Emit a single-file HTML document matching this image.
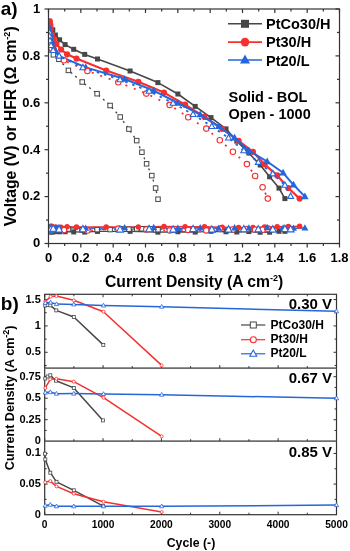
<!DOCTYPE html><html><head><meta charset="utf-8"><style>html,body{margin:0;padding:0;background:#fff;}svg{display:block;will-change:transform;}text{font-family:"Liberation Sans",sans-serif;font-weight:bold;}</style></head><body>
<svg width="350" height="551" viewBox="0 0 350 551">
<rect width="350" height="551" fill="#fff"/>
<g>
<g stroke="#333333" stroke-width="1.2" fill="none">
<rect x="48.5" y="9" width="291.0" height="234.5"/>
<line x1="48.5" y1="243.5" x2="48.5" y2="247.5"/>
<line x1="48.5" y1="9" x2="48.5" y2="13"/>
<line x1="64.67" y1="243.5" x2="64.67" y2="246"/>
<line x1="64.67" y1="9" x2="64.67" y2="11.5"/>
<line x1="80.83" y1="243.5" x2="80.83" y2="247.5"/>
<line x1="80.83" y1="9" x2="80.83" y2="13"/>
<line x1="97" y1="243.5" x2="97" y2="246"/>
<line x1="97" y1="9" x2="97" y2="11.5"/>
<line x1="113.17" y1="243.5" x2="113.17" y2="247.5"/>
<line x1="113.17" y1="9" x2="113.17" y2="13"/>
<line x1="129.33" y1="243.5" x2="129.33" y2="246"/>
<line x1="129.33" y1="9" x2="129.33" y2="11.5"/>
<line x1="145.5" y1="243.5" x2="145.5" y2="247.5"/>
<line x1="145.5" y1="9" x2="145.5" y2="13"/>
<line x1="161.67" y1="243.5" x2="161.67" y2="246"/>
<line x1="161.67" y1="9" x2="161.67" y2="11.5"/>
<line x1="177.83" y1="243.5" x2="177.83" y2="247.5"/>
<line x1="177.83" y1="9" x2="177.83" y2="13"/>
<line x1="194" y1="243.5" x2="194" y2="246"/>
<line x1="194" y1="9" x2="194" y2="11.5"/>
<line x1="210.17" y1="243.5" x2="210.17" y2="247.5"/>
<line x1="210.17" y1="9" x2="210.17" y2="13"/>
<line x1="226.33" y1="243.5" x2="226.33" y2="246"/>
<line x1="226.33" y1="9" x2="226.33" y2="11.5"/>
<line x1="242.5" y1="243.5" x2="242.5" y2="247.5"/>
<line x1="242.5" y1="9" x2="242.5" y2="13"/>
<line x1="258.67" y1="243.5" x2="258.67" y2="246"/>
<line x1="258.67" y1="9" x2="258.67" y2="11.5"/>
<line x1="274.83" y1="243.5" x2="274.83" y2="247.5"/>
<line x1="274.83" y1="9" x2="274.83" y2="13"/>
<line x1="291" y1="243.5" x2="291" y2="246"/>
<line x1="291" y1="9" x2="291" y2="11.5"/>
<line x1="307.17" y1="243.5" x2="307.17" y2="247.5"/>
<line x1="307.17" y1="9" x2="307.17" y2="13"/>
<line x1="323.33" y1="243.5" x2="323.33" y2="246"/>
<line x1="323.33" y1="9" x2="323.33" y2="11.5"/>
<line x1="339.5" y1="243.5" x2="339.5" y2="247.5"/>
<line x1="339.5" y1="9" x2="339.5" y2="13"/>
<line x1="48.5" y1="243.5" x2="44.5" y2="243.5"/>
<line x1="339.5" y1="243.5" x2="335.5" y2="243.5"/>
<line x1="48.5" y1="220.05" x2="46" y2="220.05"/>
<line x1="339.5" y1="220.05" x2="337" y2="220.05"/>
<line x1="48.5" y1="196.6" x2="44.5" y2="196.6"/>
<line x1="339.5" y1="196.6" x2="335.5" y2="196.6"/>
<line x1="48.5" y1="173.15" x2="46" y2="173.15"/>
<line x1="339.5" y1="173.15" x2="337" y2="173.15"/>
<line x1="48.5" y1="149.7" x2="44.5" y2="149.7"/>
<line x1="339.5" y1="149.7" x2="335.5" y2="149.7"/>
<line x1="48.5" y1="126.25" x2="46" y2="126.25"/>
<line x1="339.5" y1="126.25" x2="337" y2="126.25"/>
<line x1="48.5" y1="102.8" x2="44.5" y2="102.8"/>
<line x1="339.5" y1="102.8" x2="335.5" y2="102.8"/>
<line x1="48.5" y1="79.35" x2="46" y2="79.35"/>
<line x1="339.5" y1="79.35" x2="337" y2="79.35"/>
<line x1="48.5" y1="55.9" x2="44.5" y2="55.9"/>
<line x1="339.5" y1="55.9" x2="335.5" y2="55.9"/>
<line x1="48.5" y1="32.45" x2="46" y2="32.45"/>
<line x1="339.5" y1="32.45" x2="337" y2="32.45"/>
<line x1="48.5" y1="9" x2="44.5" y2="9"/>
<line x1="339.5" y1="9" x2="335.5" y2="9"/>
</g>
<text x="48.5" y="261.7" font-size="13" text-anchor="middle" font-family="Liberation Sans, sans-serif" font-weight="bold">0</text>
<text x="80.83" y="261.7" font-size="13" text-anchor="middle" font-family="Liberation Sans, sans-serif" font-weight="bold">0.2</text>
<text x="113.17" y="261.7" font-size="13" text-anchor="middle" font-family="Liberation Sans, sans-serif" font-weight="bold">0.4</text>
<text x="145.5" y="261.7" font-size="13" text-anchor="middle" font-family="Liberation Sans, sans-serif" font-weight="bold">0.6</text>
<text x="177.83" y="261.7" font-size="13" text-anchor="middle" font-family="Liberation Sans, sans-serif" font-weight="bold">0.8</text>
<text x="210.17" y="261.7" font-size="13" text-anchor="middle" font-family="Liberation Sans, sans-serif" font-weight="bold">1</text>
<text x="242.5" y="261.7" font-size="13" text-anchor="middle" font-family="Liberation Sans, sans-serif" font-weight="bold">1.2</text>
<text x="274.83" y="261.7" font-size="13" text-anchor="middle" font-family="Liberation Sans, sans-serif" font-weight="bold">1.4</text>
<text x="307.17" y="261.7" font-size="13" text-anchor="middle" font-family="Liberation Sans, sans-serif" font-weight="bold">1.6</text>
<text x="339.5" y="261.7" font-size="13" text-anchor="middle" font-family="Liberation Sans, sans-serif" font-weight="bold">1.8</text>
<text x="40.3" y="247.3" font-size="13" text-anchor="end" font-family="Liberation Sans, sans-serif" font-weight="bold">0</text>
<text x="40.3" y="200.4" font-size="13" text-anchor="end" font-family="Liberation Sans, sans-serif" font-weight="bold">0.2</text>
<text x="40.3" y="153.5" font-size="13" text-anchor="end" font-family="Liberation Sans, sans-serif" font-weight="bold">0.4</text>
<text x="40.3" y="106.6" font-size="13" text-anchor="end" font-family="Liberation Sans, sans-serif" font-weight="bold">0.6</text>
<text x="40.3" y="59.7" font-size="13" text-anchor="end" font-family="Liberation Sans, sans-serif" font-weight="bold">0.8</text>
<text x="40.3" y="12.8" font-size="13" text-anchor="end" font-family="Liberation Sans, sans-serif" font-weight="bold">1</text>
<defs><clipPath id="ca"><rect x="49.1" y="9" width="291.0" height="234.5"/></clipPath></defs><g clip-path="url(#ca)">
<polyline points="49.5,228.83 50.4,228.64 51.4,229.05 53.4,228.72 58.9,228.59 68.4,229.06 82.2,229.79 97.1,229.62 110.1,229.57 120.2,228.81 128.9,229.25 136.7,228.89 141.9,228.74 146.6,228.65 151.8,228.8 155.6,229.8 158,229.66" fill="none" stroke="#474747" stroke-width="1.1" stroke-dasharray="1.5,3.5" stroke-linejoin="round"/>
<polyline points="49.2,229.85 49.6,230.08 50.3,230.19 51.7,230.48 64,230.08 87.4,230.44 118.3,228.66 146.3,229.53 169.7,230.49 188.2,229.9 206.3,230.4 219.8,228.83 232.9,229.54 246.9,229.09 255.1,229.69 262.6,229.75 267.8,228.63" fill="none" stroke="#f5302f" stroke-width="1.3" stroke-dasharray="2,4" stroke-linejoin="round"/>
<polyline points="49.6,229.59 49.6,229.62 50,229.29 51,229.06 53.2,228.8 59.1,229.46 82.9,229.27 120,229.56 149.1,229.17 173.1,229.57 193.1,229.07 211.8,229.6 228.5,229.53 243.8,229.21 258.3,229.34 272.8,229.48 284.9,228.99 290.6,229.35" fill="none" stroke="#2466dc" stroke-width="1.4" stroke-dasharray="2.5,4" stroke-linejoin="round"/>
<polyline points="49.3,231.43 50.6,232.15 52.8,232.06 55.4,231.56 59.6,231.8 65.1,231.75 73.7,231.95 84.7,232.09 97.5,231.39 130.1,231.33 157.9,232.14 177.9,231.73 195.2,232.06 211,231.3 226,231.75 236.8,232.02 248.8,231.53 260.2,232.25 269.6,232.2 279,231.33 284.9,231.33" fill="none" stroke="#474747" stroke-width="1.3" stroke-linejoin="round"/>
<polyline points="49.9,227.54 50.3,227.53 50.8,226.28 51.8,226.32 53.9,227.37 56.4,227.23 61.1,227.14 67.1,226.63 76.5,227.05 106.2,227.05 138.3,227.01 164,226.42 185.1,226.8 204.5,226.75 222.2,227.21 238.6,227.59 253,227.53 264.5,226.96 277.2,226.82 288.3,226.58 299.6,226.25" fill="none" stroke="#f5302f" stroke-width="1.4" stroke-linejoin="round"/>
<polyline points="48.9,227.64 49.5,227.94 50.3,227.77 51.5,228 53.3,228.03 55.8,227.47 59,227.41 85.7,228.24 124.6,227.66 153.7,227.63 177.9,228.4 200.2,227.87 218.7,228.24 234.6,227.88 248.9,228.04 267.2,227.55 283.1,228.03 293.5,228.27 304.9,227.92" fill="none" stroke="#2466dc" stroke-width="1.5" stroke-linejoin="round"/>
<rect x="46.8" y="228.93" width="5" height="5" fill="#474747"/>
<rect x="48.1" y="229.65" width="5" height="5" fill="#474747"/>
<rect x="50.3" y="229.56" width="5" height="5" fill="#474747"/>
<rect x="52.9" y="229.06" width="5" height="5" fill="#474747"/>
<rect x="57.1" y="229.3" width="5" height="5" fill="#474747"/>
<rect x="62.6" y="229.25" width="5" height="5" fill="#474747"/>
<rect x="71.2" y="229.45" width="5" height="5" fill="#474747"/>
<rect x="82.2" y="229.59" width="5" height="5" fill="#474747"/>
<rect x="95" y="228.89" width="5" height="5" fill="#474747"/>
<rect x="127.6" y="228.83" width="5" height="5" fill="#474747"/>
<rect x="155.4" y="229.64" width="5" height="5" fill="#474747"/>
<rect x="175.4" y="229.23" width="5" height="5" fill="#474747"/>
<rect x="192.7" y="229.56" width="5" height="5" fill="#474747"/>
<rect x="208.5" y="228.8" width="5" height="5" fill="#474747"/>
<rect x="223.5" y="229.25" width="5" height="5" fill="#474747"/>
<rect x="234.3" y="229.52" width="5" height="5" fill="#474747"/>
<rect x="246.3" y="229.03" width="5" height="5" fill="#474747"/>
<rect x="257.7" y="229.75" width="5" height="5" fill="#474747"/>
<rect x="267.1" y="229.7" width="5" height="5" fill="#474747"/>
<rect x="276.5" y="228.83" width="5" height="5" fill="#474747"/>
<rect x="282.4" y="228.83" width="5" height="5" fill="#474747"/>
<rect x="47.25" y="226.58" width="4.5" height="4.5" fill="#fff" stroke="#474747" stroke-width="1"/>
<rect x="48.15" y="226.39" width="4.5" height="4.5" fill="#fff" stroke="#474747" stroke-width="1"/>
<rect x="49.15" y="226.8" width="4.5" height="4.5" fill="#fff" stroke="#474747" stroke-width="1"/>
<rect x="51.15" y="226.47" width="4.5" height="4.5" fill="#fff" stroke="#474747" stroke-width="1"/>
<rect x="56.65" y="226.34" width="4.5" height="4.5" fill="#fff" stroke="#474747" stroke-width="1"/>
<rect x="66.15" y="226.81" width="4.5" height="4.5" fill="#fff" stroke="#474747" stroke-width="1"/>
<rect x="79.95" y="227.54" width="4.5" height="4.5" fill="#fff" stroke="#474747" stroke-width="1"/>
<rect x="94.85" y="227.37" width="4.5" height="4.5" fill="#fff" stroke="#474747" stroke-width="1"/>
<rect x="107.85" y="227.32" width="4.5" height="4.5" fill="#fff" stroke="#474747" stroke-width="1"/>
<rect x="117.95" y="226.56" width="4.5" height="4.5" fill="#fff" stroke="#474747" stroke-width="1"/>
<rect x="126.65" y="227" width="4.5" height="4.5" fill="#fff" stroke="#474747" stroke-width="1"/>
<rect x="134.45" y="226.64" width="4.5" height="4.5" fill="#fff" stroke="#474747" stroke-width="1"/>
<rect x="139.65" y="226.49" width="4.5" height="4.5" fill="#fff" stroke="#474747" stroke-width="1"/>
<rect x="144.35" y="226.4" width="4.5" height="4.5" fill="#fff" stroke="#474747" stroke-width="1"/>
<rect x="149.55" y="226.55" width="4.5" height="4.5" fill="#fff" stroke="#474747" stroke-width="1"/>
<rect x="153.35" y="227.55" width="4.5" height="4.5" fill="#fff" stroke="#474747" stroke-width="1"/>
<rect x="155.75" y="227.41" width="4.5" height="4.5" fill="#fff" stroke="#474747" stroke-width="1"/>
<circle cx="49.9" cy="227.54" r="2.75" fill="#f5302f"/>
<circle cx="50.3" cy="227.53" r="2.75" fill="#f5302f"/>
<circle cx="50.8" cy="226.28" r="2.75" fill="#f5302f"/>
<circle cx="51.8" cy="226.32" r="2.75" fill="#f5302f"/>
<circle cx="53.9" cy="227.37" r="2.75" fill="#f5302f"/>
<circle cx="56.4" cy="227.23" r="2.75" fill="#f5302f"/>
<circle cx="61.1" cy="227.14" r="2.75" fill="#f5302f"/>
<circle cx="67.1" cy="226.63" r="2.75" fill="#f5302f"/>
<circle cx="76.5" cy="227.05" r="2.75" fill="#f5302f"/>
<circle cx="106.2" cy="227.05" r="2.75" fill="#f5302f"/>
<circle cx="138.3" cy="227.01" r="2.75" fill="#f5302f"/>
<circle cx="164" cy="226.42" r="2.75" fill="#f5302f"/>
<circle cx="185.1" cy="226.8" r="2.75" fill="#f5302f"/>
<circle cx="204.5" cy="226.75" r="2.75" fill="#f5302f"/>
<circle cx="222.2" cy="227.21" r="2.75" fill="#f5302f"/>
<circle cx="238.6" cy="227.59" r="2.75" fill="#f5302f"/>
<circle cx="253" cy="227.53" r="2.75" fill="#f5302f"/>
<circle cx="264.5" cy="226.96" r="2.75" fill="#f5302f"/>
<circle cx="277.2" cy="226.82" r="2.75" fill="#f5302f"/>
<circle cx="288.3" cy="226.58" r="2.75" fill="#f5302f"/>
<circle cx="299.6" cy="226.25" r="2.75" fill="#f5302f"/>
<circle cx="49.2" cy="229.85" r="2.75" fill="#fff" stroke="#f5302f" stroke-width="1.1"/>
<circle cx="49.6" cy="230.08" r="2.75" fill="#fff" stroke="#f5302f" stroke-width="1.1"/>
<circle cx="50.3" cy="230.19" r="2.75" fill="#fff" stroke="#f5302f" stroke-width="1.1"/>
<circle cx="51.7" cy="230.48" r="2.75" fill="#fff" stroke="#f5302f" stroke-width="1.1"/>
<circle cx="64" cy="230.08" r="2.75" fill="#fff" stroke="#f5302f" stroke-width="1.1"/>
<circle cx="87.4" cy="230.44" r="2.75" fill="#fff" stroke="#f5302f" stroke-width="1.1"/>
<circle cx="118.3" cy="228.66" r="2.75" fill="#fff" stroke="#f5302f" stroke-width="1.1"/>
<circle cx="146.3" cy="229.53" r="2.75" fill="#fff" stroke="#f5302f" stroke-width="1.1"/>
<circle cx="169.7" cy="230.49" r="2.75" fill="#fff" stroke="#f5302f" stroke-width="1.1"/>
<circle cx="188.2" cy="229.9" r="2.75" fill="#fff" stroke="#f5302f" stroke-width="1.1"/>
<circle cx="206.3" cy="230.4" r="2.75" fill="#fff" stroke="#f5302f" stroke-width="1.1"/>
<circle cx="219.8" cy="228.83" r="2.75" fill="#fff" stroke="#f5302f" stroke-width="1.1"/>
<circle cx="232.9" cy="229.54" r="2.75" fill="#fff" stroke="#f5302f" stroke-width="1.1"/>
<circle cx="246.9" cy="229.09" r="2.75" fill="#fff" stroke="#f5302f" stroke-width="1.1"/>
<circle cx="255.1" cy="229.69" r="2.75" fill="#fff" stroke="#f5302f" stroke-width="1.1"/>
<circle cx="262.6" cy="229.75" r="2.75" fill="#fff" stroke="#f5302f" stroke-width="1.1"/>
<circle cx="267.8" cy="228.63" r="2.75" fill="#fff" stroke="#f5302f" stroke-width="1.1"/>
<polygon points="48.9,223.86 45.4,230.16 52.4,230.16" fill="#2466dc"/>
<polygon points="49.5,224.16 46,230.46 53,230.46" fill="#2466dc"/>
<polygon points="50.3,223.99 46.8,230.29 53.8,230.29" fill="#2466dc"/>
<polygon points="51.5,224.22 48,230.52 55,230.52" fill="#2466dc"/>
<polygon points="53.3,224.25 49.8,230.55 56.8,230.55" fill="#2466dc"/>
<polygon points="55.8,223.69 52.3,229.99 59.3,229.99" fill="#2466dc"/>
<polygon points="59,223.63 55.5,229.93 62.5,229.93" fill="#2466dc"/>
<polygon points="85.7,224.46 82.2,230.76 89.2,230.76" fill="#2466dc"/>
<polygon points="124.6,223.88 121.1,230.18 128.1,230.18" fill="#2466dc"/>
<polygon points="153.7,223.85 150.2,230.15 157.2,230.15" fill="#2466dc"/>
<polygon points="177.9,224.62 174.4,230.92 181.4,230.92" fill="#2466dc"/>
<polygon points="200.2,224.09 196.7,230.39 203.7,230.39" fill="#2466dc"/>
<polygon points="218.7,224.46 215.2,230.76 222.2,230.76" fill="#2466dc"/>
<polygon points="234.6,224.1 231.1,230.4 238.1,230.4" fill="#2466dc"/>
<polygon points="248.9,224.26 245.4,230.56 252.4,230.56" fill="#2466dc"/>
<polygon points="267.2,223.77 263.7,230.07 270.7,230.07" fill="#2466dc"/>
<polygon points="283.1,224.25 279.6,230.55 286.6,230.55" fill="#2466dc"/>
<polygon points="293.5,224.49 290,230.79 297,230.79" fill="#2466dc"/>
<polygon points="304.9,224.14 301.4,230.44 308.4,230.44" fill="#2466dc"/>
<polygon points="49.6,225.81 46.1,232.11 53.1,232.11" fill="#fff" stroke="#2466dc" stroke-width="1.1" stroke-linejoin="miter"/>
<polygon points="49.6,225.84 46.1,232.14 53.1,232.14" fill="#fff" stroke="#2466dc" stroke-width="1.1" stroke-linejoin="miter"/>
<polygon points="50,225.51 46.5,231.81 53.5,231.81" fill="#fff" stroke="#2466dc" stroke-width="1.1" stroke-linejoin="miter"/>
<polygon points="51,225.28 47.5,231.58 54.5,231.58" fill="#fff" stroke="#2466dc" stroke-width="1.1" stroke-linejoin="miter"/>
<polygon points="53.2,225.02 49.7,231.32 56.7,231.32" fill="#fff" stroke="#2466dc" stroke-width="1.1" stroke-linejoin="miter"/>
<polygon points="59.1,225.68 55.6,231.98 62.6,231.98" fill="#fff" stroke="#2466dc" stroke-width="1.1" stroke-linejoin="miter"/>
<polygon points="82.9,225.49 79.4,231.79 86.4,231.79" fill="#fff" stroke="#2466dc" stroke-width="1.1" stroke-linejoin="miter"/>
<polygon points="120,225.78 116.5,232.08 123.5,232.08" fill="#fff" stroke="#2466dc" stroke-width="1.1" stroke-linejoin="miter"/>
<polygon points="149.1,225.39 145.6,231.69 152.6,231.69" fill="#fff" stroke="#2466dc" stroke-width="1.1" stroke-linejoin="miter"/>
<polygon points="173.1,225.79 169.6,232.09 176.6,232.09" fill="#fff" stroke="#2466dc" stroke-width="1.1" stroke-linejoin="miter"/>
<polygon points="193.1,225.29 189.6,231.59 196.6,231.59" fill="#fff" stroke="#2466dc" stroke-width="1.1" stroke-linejoin="miter"/>
<polygon points="211.8,225.82 208.3,232.12 215.3,232.12" fill="#fff" stroke="#2466dc" stroke-width="1.1" stroke-linejoin="miter"/>
<polygon points="228.5,225.75 225,232.05 232,232.05" fill="#fff" stroke="#2466dc" stroke-width="1.1" stroke-linejoin="miter"/>
<polygon points="243.8,225.43 240.3,231.73 247.3,231.73" fill="#fff" stroke="#2466dc" stroke-width="1.1" stroke-linejoin="miter"/>
<polygon points="258.3,225.56 254.8,231.86 261.8,231.86" fill="#fff" stroke="#2466dc" stroke-width="1.1" stroke-linejoin="miter"/>
<polygon points="272.8,225.7 269.3,232 276.3,232" fill="#fff" stroke="#2466dc" stroke-width="1.1" stroke-linejoin="miter"/>
<polygon points="284.9,225.21 281.4,231.51 288.4,231.51" fill="#fff" stroke="#2466dc" stroke-width="1.1" stroke-linejoin="miter"/>
<polygon points="290.6,225.57 287.1,231.87 294.1,231.87" fill="#fff" stroke="#2466dc" stroke-width="1.1" stroke-linejoin="miter"/>
<polyline points="49.3,21 50.6,25.5 52.8,29.8 55.4,35 59.6,39.8 65.1,44.6 73.7,49.3 84.7,54.4 97.5,59 130.1,71 157.9,82.6 177.9,94 195.2,106.4 211,117.6 226,128.9 236.8,141.1 248.8,153 260.2,165 269.6,176.8 279,188.1 284.9,198.6" fill="none" stroke="#474747" stroke-width="1.6" stroke-linejoin="round"/>
<rect x="46.8" y="18.5" width="5" height="5" fill="#474747"/>
<rect x="48.1" y="23" width="5" height="5" fill="#474747"/>
<rect x="50.3" y="27.3" width="5" height="5" fill="#474747"/>
<rect x="52.9" y="32.5" width="5" height="5" fill="#474747"/>
<rect x="57.1" y="37.3" width="5" height="5" fill="#474747"/>
<rect x="62.6" y="42.1" width="5" height="5" fill="#474747"/>
<rect x="71.2" y="46.8" width="5" height="5" fill="#474747"/>
<rect x="82.2" y="51.9" width="5" height="5" fill="#474747"/>
<rect x="95" y="56.5" width="5" height="5" fill="#474747"/>
<rect x="127.6" y="68.5" width="5" height="5" fill="#474747"/>
<rect x="155.4" y="80.1" width="5" height="5" fill="#474747"/>
<rect x="175.4" y="91.5" width="5" height="5" fill="#474747"/>
<rect x="192.7" y="103.9" width="5" height="5" fill="#474747"/>
<rect x="208.5" y="115.1" width="5" height="5" fill="#474747"/>
<rect x="223.5" y="126.4" width="5" height="5" fill="#474747"/>
<rect x="234.3" y="138.6" width="5" height="5" fill="#474747"/>
<rect x="246.3" y="150.5" width="5" height="5" fill="#474747"/>
<rect x="257.7" y="162.5" width="5" height="5" fill="#474747"/>
<rect x="267.1" y="174.3" width="5" height="5" fill="#474747"/>
<rect x="276.5" y="185.6" width="5" height="5" fill="#474747"/>
<rect x="282.4" y="196.1" width="5" height="5" fill="#474747"/>
<polyline points="49.9,21.5 50.3,25 50.8,28.5 51.8,34.3 53.9,39 56.4,43.8 61.1,49.5 67.1,54.3 76.5,58.6 106.2,70.5 138.3,81.8 164,92.6 185.1,104.7 204.5,116.9 222.2,128.8 238.6,140.8 253,151.8 264.5,164.3 277.2,175.4 288.3,188 299.6,198.6" fill="none" stroke="#f5302f" stroke-width="2.2" stroke-linejoin="round"/>
<circle cx="49.9" cy="21.5" r="3.1" fill="#f5302f"/>
<circle cx="50.3" cy="25" r="3.1" fill="#f5302f"/>
<circle cx="50.8" cy="28.5" r="3.1" fill="#f5302f"/>
<circle cx="51.8" cy="34.3" r="3.1" fill="#f5302f"/>
<circle cx="53.9" cy="39" r="3.1" fill="#f5302f"/>
<circle cx="56.4" cy="43.8" r="3.1" fill="#f5302f"/>
<circle cx="61.1" cy="49.5" r="3.1" fill="#f5302f"/>
<circle cx="67.1" cy="54.3" r="3.1" fill="#f5302f"/>
<circle cx="76.5" cy="58.6" r="3.1" fill="#f5302f"/>
<circle cx="106.2" cy="70.5" r="3.1" fill="#f5302f"/>
<circle cx="138.3" cy="81.8" r="3.1" fill="#f5302f"/>
<circle cx="164" cy="92.6" r="3.1" fill="#f5302f"/>
<circle cx="185.1" cy="104.7" r="3.1" fill="#f5302f"/>
<circle cx="204.5" cy="116.9" r="3.1" fill="#f5302f"/>
<circle cx="222.2" cy="128.8" r="3.1" fill="#f5302f"/>
<circle cx="238.6" cy="140.8" r="3.1" fill="#f5302f"/>
<circle cx="253" cy="151.8" r="3.1" fill="#f5302f"/>
<circle cx="264.5" cy="164.3" r="3.1" fill="#f5302f"/>
<circle cx="277.2" cy="175.4" r="3.1" fill="#f5302f"/>
<circle cx="288.3" cy="188" r="3.1" fill="#f5302f"/>
<circle cx="299.6" cy="198.6" r="3.1" fill="#f5302f"/>
<polyline points="48.9,26.5 49.5,31 50.3,36 51.5,41 53.3,46 55.8,51 59,55.8 85.7,67.4 124.6,79 153.7,90.6 177.9,103 200.2,114.6 218.7,126.4 234.6,137.8 248.9,150.8 267.2,161.5 283.1,172.8 293.5,184.8 304.9,196.6" fill="none" stroke="#2466dc" stroke-width="2.0" stroke-linejoin="round"/>
<polygon points="48.9,22.45 45.15,29.2 52.65,29.2" fill="#2466dc"/>
<polygon points="49.5,26.95 45.75,33.7 53.25,33.7" fill="#2466dc"/>
<polygon points="50.3,31.95 46.55,38.7 54.05,38.7" fill="#2466dc"/>
<polygon points="51.5,36.95 47.75,43.7 55.25,43.7" fill="#2466dc"/>
<polygon points="53.3,41.95 49.55,48.7 57.05,48.7" fill="#2466dc"/>
<polygon points="55.8,46.95 52.05,53.7 59.55,53.7" fill="#2466dc"/>
<polygon points="59,51.75 55.25,58.5 62.75,58.5" fill="#2466dc"/>
<polygon points="85.7,63.35 81.95,70.1 89.45,70.1" fill="#2466dc"/>
<polygon points="124.6,74.95 120.85,81.7 128.35,81.7" fill="#2466dc"/>
<polygon points="153.7,86.55 149.95,93.3 157.45,93.3" fill="#2466dc"/>
<polygon points="177.9,98.95 174.15,105.7 181.65,105.7" fill="#2466dc"/>
<polygon points="200.2,110.55 196.45,117.3 203.95,117.3" fill="#2466dc"/>
<polygon points="218.7,122.35 214.95,129.1 222.45,129.1" fill="#2466dc"/>
<polygon points="234.6,133.75 230.85,140.5 238.35,140.5" fill="#2466dc"/>
<polygon points="248.9,146.75 245.15,153.5 252.65,153.5" fill="#2466dc"/>
<polygon points="267.2,157.45 263.45,164.2 270.95,164.2" fill="#2466dc"/>
<polygon points="283.1,168.75 279.35,175.5 286.85,175.5" fill="#2466dc"/>
<polygon points="293.5,180.75 289.75,187.5 297.25,187.5" fill="#2466dc"/>
<polygon points="304.9,192.55 301.15,199.3 308.65,199.3" fill="#2466dc"/>
<polyline points="49.5,38 50.4,44 51.4,49.7 53.4,54.8 58.9,59.3 68.4,70.4 82.2,82 97.1,93.7 110.1,105.5 120.2,117 128.9,129.1 136.7,140.6 141.9,152.2 146.6,163.8 151.8,175.6 155.6,188.1 158,199.2" fill="none" stroke="#474747" stroke-width="1.4" stroke-dasharray="2,4" stroke-linejoin="round"/>
<rect x="47.25" y="35.75" width="4.5" height="4.5" fill="#fff" stroke="#474747" stroke-width="1"/>
<rect x="48.15" y="41.75" width="4.5" height="4.5" fill="#fff" stroke="#474747" stroke-width="1"/>
<rect x="49.15" y="47.45" width="4.5" height="4.5" fill="#fff" stroke="#474747" stroke-width="1"/>
<rect x="51.15" y="52.55" width="4.5" height="4.5" fill="#fff" stroke="#474747" stroke-width="1"/>
<rect x="56.65" y="57.05" width="4.5" height="4.5" fill="#fff" stroke="#474747" stroke-width="1"/>
<rect x="66.15" y="68.15" width="4.5" height="4.5" fill="#fff" stroke="#474747" stroke-width="1"/>
<rect x="79.95" y="79.75" width="4.5" height="4.5" fill="#fff" stroke="#474747" stroke-width="1"/>
<rect x="94.85" y="91.45" width="4.5" height="4.5" fill="#fff" stroke="#474747" stroke-width="1"/>
<rect x="107.85" y="103.25" width="4.5" height="4.5" fill="#fff" stroke="#474747" stroke-width="1"/>
<rect x="117.95" y="114.75" width="4.5" height="4.5" fill="#fff" stroke="#474747" stroke-width="1"/>
<rect x="126.65" y="126.85" width="4.5" height="4.5" fill="#fff" stroke="#474747" stroke-width="1"/>
<rect x="134.45" y="138.35" width="4.5" height="4.5" fill="#fff" stroke="#474747" stroke-width="1"/>
<rect x="139.65" y="149.95" width="4.5" height="4.5" fill="#fff" stroke="#474747" stroke-width="1"/>
<rect x="144.35" y="161.55" width="4.5" height="4.5" fill="#fff" stroke="#474747" stroke-width="1"/>
<rect x="149.55" y="173.35" width="4.5" height="4.5" fill="#fff" stroke="#474747" stroke-width="1"/>
<rect x="153.35" y="185.85" width="4.5" height="4.5" fill="#fff" stroke="#474747" stroke-width="1"/>
<rect x="155.75" y="196.95" width="4.5" height="4.5" fill="#fff" stroke="#474747" stroke-width="1"/>
<polyline points="49.2,24 49.6,31 50.3,38 51.7,48.6 64,60.2 87.4,70.9 118.3,82.2 146.3,93.6 169.7,104.9 188.2,117.2 206.3,128.6 219.8,140.3 232.9,151.8 246.9,164.1 255.1,176 262.6,187.3 267.8,198.6" fill="none" stroke="#f5302f" stroke-width="1.8" stroke-dasharray="2,7" stroke-linejoin="round"/>
<circle cx="51.7" cy="48.6" r="2.75" fill="#fff" stroke="#f5302f" stroke-width="1.1"/>
<circle cx="64" cy="60.2" r="2.75" fill="#fff" stroke="#f5302f" stroke-width="1.1"/>
<circle cx="87.4" cy="70.9" r="2.75" fill="#fff" stroke="#f5302f" stroke-width="1.1"/>
<circle cx="118.3" cy="82.2" r="2.75" fill="#fff" stroke="#f5302f" stroke-width="1.1"/>
<circle cx="146.3" cy="93.6" r="2.75" fill="#fff" stroke="#f5302f" stroke-width="1.1"/>
<circle cx="169.7" cy="104.9" r="2.75" fill="#fff" stroke="#f5302f" stroke-width="1.1"/>
<circle cx="188.2" cy="117.2" r="2.75" fill="#fff" stroke="#f5302f" stroke-width="1.1"/>
<circle cx="206.3" cy="128.6" r="2.75" fill="#fff" stroke="#f5302f" stroke-width="1.1"/>
<circle cx="219.8" cy="140.3" r="2.75" fill="#fff" stroke="#f5302f" stroke-width="1.1"/>
<circle cx="232.9" cy="151.8" r="2.75" fill="#fff" stroke="#f5302f" stroke-width="1.1"/>
<circle cx="246.9" cy="164.1" r="2.75" fill="#fff" stroke="#f5302f" stroke-width="1.1"/>
<circle cx="255.1" cy="176" r="2.75" fill="#fff" stroke="#f5302f" stroke-width="1.1"/>
<circle cx="262.6" cy="187.3" r="2.75" fill="#fff" stroke="#f5302f" stroke-width="1.1"/>
<circle cx="267.8" cy="198.6" r="2.75" fill="#fff" stroke="#f5302f" stroke-width="1.1"/>
<polyline points="49.6,32.7 49.6,36.3 50,40.7 51,45.4 53.2,50.4 59.1,56 82.9,67.6 120,79.6 149.1,91.1 173.1,103.1 193.1,114.4 211.8,126.4 228.5,137.9 243.8,150.6 258.3,162.2 272.8,173.7 284.9,185.1 290.6,196.2" fill="none" stroke="#2466dc" stroke-width="1.9" stroke-dasharray="2.5,5" stroke-linejoin="round"/>
<polygon points="49.6,29.46 46.6,34.86 52.6,34.86" fill="#fff" stroke="#2466dc" stroke-width="1.1" stroke-linejoin="miter"/>
<polygon points="49.6,33.06 46.6,38.46 52.6,38.46" fill="#fff" stroke="#2466dc" stroke-width="1.1" stroke-linejoin="miter"/>
<polygon points="50,37.46 47,42.86 53,42.86" fill="#fff" stroke="#2466dc" stroke-width="1.1" stroke-linejoin="miter"/>
<polygon points="51,42.16 48,47.56 54,47.56" fill="#fff" stroke="#2466dc" stroke-width="1.1" stroke-linejoin="miter"/>
<polygon points="53.2,47.16 50.2,52.56 56.2,52.56" fill="#fff" stroke="#2466dc" stroke-width="1.1" stroke-linejoin="miter"/>
<polygon points="59.1,52.76 56.1,58.16 62.1,58.16" fill="#fff" stroke="#2466dc" stroke-width="1.1" stroke-linejoin="miter"/>
<polygon points="82.9,64.36 79.9,69.76 85.9,69.76" fill="#fff" stroke="#2466dc" stroke-width="1.1" stroke-linejoin="miter"/>
<polygon points="120,76.36 117,81.76 123,81.76" fill="#fff" stroke="#2466dc" stroke-width="1.1" stroke-linejoin="miter"/>
<polygon points="149.1,87.86 146.1,93.26 152.1,93.26" fill="#fff" stroke="#2466dc" stroke-width="1.1" stroke-linejoin="miter"/>
<polygon points="173.1,99.86 170.1,105.26 176.1,105.26" fill="#fff" stroke="#2466dc" stroke-width="1.1" stroke-linejoin="miter"/>
<polygon points="193.1,111.16 190.1,116.56 196.1,116.56" fill="#fff" stroke="#2466dc" stroke-width="1.1" stroke-linejoin="miter"/>
<polygon points="211.8,123.16 208.8,128.56 214.8,128.56" fill="#fff" stroke="#2466dc" stroke-width="1.1" stroke-linejoin="miter"/>
<polygon points="228.5,134.66 225.5,140.06 231.5,140.06" fill="#fff" stroke="#2466dc" stroke-width="1.1" stroke-linejoin="miter"/>
<polygon points="243.8,147.36 240.8,152.76 246.8,152.76" fill="#fff" stroke="#2466dc" stroke-width="1.1" stroke-linejoin="miter"/>
<polygon points="258.3,158.96 255.3,164.36 261.3,164.36" fill="#fff" stroke="#2466dc" stroke-width="1.1" stroke-linejoin="miter"/>
<polygon points="272.8,170.46 269.8,175.86 275.8,175.86" fill="#fff" stroke="#2466dc" stroke-width="1.1" stroke-linejoin="miter"/>
<polygon points="284.9,181.86 281.9,187.26 287.9,187.26" fill="#fff" stroke="#2466dc" stroke-width="1.1" stroke-linejoin="miter"/>
<polygon points="290.6,192.96 287.6,198.36 293.6,198.36" fill="#fff" stroke="#2466dc" stroke-width="1.1" stroke-linejoin="miter"/>
</g>
<line x1="228" y1="23.8" x2="262" y2="23.8" stroke="#474747" stroke-width="1.6"/>
<rect x="241" y="19.8" width="8" height="8" fill="#474747"/>
<line x1="228" y1="42.1" x2="262" y2="42.1" stroke="#f5302f" stroke-width="1.6"/>
<circle cx="245" cy="42.1" r="4.3" fill="#f5302f"/>
<line x1="228" y1="60" x2="262" y2="60" stroke="#2466dc" stroke-width="1.6"/>
<polygon points="245,54.6 240,63.6 250,63.6" fill="#2466dc"/>
<text x="266" y="28.9" font-size="14.5" text-anchor="start" font-family="Liberation Sans, sans-serif" font-weight="bold">PtCo30/H</text>
<text x="266" y="47.1" font-size="14.5" text-anchor="start" font-family="Liberation Sans, sans-serif" font-weight="bold">Pt30/H</text>
<text x="266" y="65.8" font-size="14.5" text-anchor="start" font-family="Liberation Sans, sans-serif" font-weight="bold">Pt20/L</text>
<text x="228.5" y="101.6" font-size="14.5" text-anchor="start" font-family="Liberation Sans, sans-serif" font-weight="bold">Solid - BOL</text>
<text x="228.5" y="119.3" font-size="14.5" text-anchor="start" font-family="Liberation Sans, sans-serif" font-weight="bold">Open - 1000</text>
</g>
<text x="105" y="287.1" font-size="15.7" text-anchor="start" font-family="Liberation Sans, sans-serif" font-weight="bold">Current Density (A cm<tspan dy="-6" font-size="9">-2</tspan><tspan dy="6">)</tspan></text>
<text transform="translate(16.3,126.3) rotate(-90)" x="0" y="0" font-size="15.7" text-anchor="middle" font-family="Liberation Sans, sans-serif" font-weight="bold">Voltage (V) or HFR (&#937; cm<tspan dy="-6" font-size="9">-2</tspan><tspan dy="6">)</tspan></text>
<text x="0.8" y="15" font-size="19" text-anchor="start" font-family="Liberation Sans, sans-serif" font-weight="bold">a)</text>
<g stroke="#333333" stroke-width="1.2" fill="none">
<rect x="44.7" y="294.3" width="291.8" height="220.40000000000003"/>
</g>
<g stroke="#6e6e6e" stroke-width="1.8" fill="none">
<line x1="44.7" y1="368.1" x2="336.5" y2="368.1"/>
<line x1="44.7" y1="441.2" x2="336.5" y2="441.2"/>
</g>
<g stroke="#333333" stroke-width="1" fill="none">
<line x1="44.7" y1="294.3" x2="44.7" y2="297.3"/>
<line x1="44.7" y1="368.1" x2="44.7" y2="365.1"/>
<line x1="73.88" y1="294.3" x2="73.88" y2="296.3"/>
<line x1="73.88" y1="368.1" x2="73.88" y2="366.1"/>
<line x1="103.06" y1="294.3" x2="103.06" y2="297.3"/>
<line x1="103.06" y1="368.1" x2="103.06" y2="365.1"/>
<line x1="132.24" y1="294.3" x2="132.24" y2="296.3"/>
<line x1="132.24" y1="368.1" x2="132.24" y2="366.1"/>
<line x1="161.42" y1="294.3" x2="161.42" y2="297.3"/>
<line x1="161.42" y1="368.1" x2="161.42" y2="365.1"/>
<line x1="190.6" y1="294.3" x2="190.6" y2="296.3"/>
<line x1="190.6" y1="368.1" x2="190.6" y2="366.1"/>
<line x1="219.78" y1="294.3" x2="219.78" y2="297.3"/>
<line x1="219.78" y1="368.1" x2="219.78" y2="365.1"/>
<line x1="248.96" y1="294.3" x2="248.96" y2="296.3"/>
<line x1="248.96" y1="368.1" x2="248.96" y2="366.1"/>
<line x1="278.14" y1="294.3" x2="278.14" y2="297.3"/>
<line x1="278.14" y1="368.1" x2="278.14" y2="365.1"/>
<line x1="307.32" y1="294.3" x2="307.32" y2="296.3"/>
<line x1="307.32" y1="368.1" x2="307.32" y2="366.1"/>
<line x1="336.5" y1="294.3" x2="336.5" y2="297.3"/>
<line x1="336.5" y1="368.1" x2="336.5" y2="365.1"/>
<line x1="44.7" y1="441.2" x2="44.7" y2="438.2"/>
<line x1="73.88" y1="441.2" x2="73.88" y2="439.2"/>
<line x1="103.06" y1="441.2" x2="103.06" y2="438.2"/>
<line x1="132.24" y1="441.2" x2="132.24" y2="439.2"/>
<line x1="161.42" y1="441.2" x2="161.42" y2="438.2"/>
<line x1="190.6" y1="441.2" x2="190.6" y2="439.2"/>
<line x1="219.78" y1="441.2" x2="219.78" y2="438.2"/>
<line x1="248.96" y1="441.2" x2="248.96" y2="439.2"/>
<line x1="278.14" y1="441.2" x2="278.14" y2="438.2"/>
<line x1="307.32" y1="441.2" x2="307.32" y2="439.2"/>
<line x1="336.5" y1="441.2" x2="336.5" y2="438.2"/>
<line x1="44.7" y1="514.7" x2="44.7" y2="511.7"/>
<line x1="73.88" y1="514.7" x2="73.88" y2="512.7"/>
<line x1="103.06" y1="514.7" x2="103.06" y2="511.7"/>
<line x1="132.24" y1="514.7" x2="132.24" y2="512.7"/>
<line x1="161.42" y1="514.7" x2="161.42" y2="511.7"/>
<line x1="190.6" y1="514.7" x2="190.6" y2="512.7"/>
<line x1="219.78" y1="514.7" x2="219.78" y2="511.7"/>
<line x1="248.96" y1="514.7" x2="248.96" y2="512.7"/>
<line x1="278.14" y1="514.7" x2="278.14" y2="511.7"/>
<line x1="307.32" y1="514.7" x2="307.32" y2="512.7"/>
<line x1="336.5" y1="514.7" x2="336.5" y2="511.7"/>
<line x1="44.7" y1="365.46" x2="46.7" y2="365.46"/>
<line x1="336.5" y1="365.46" x2="334.5" y2="365.46"/>
<line x1="44.7" y1="352.29" x2="47.7" y2="352.29"/>
<line x1="336.5" y1="352.29" x2="333.5" y2="352.29"/>
<line x1="44.7" y1="339.11" x2="46.7" y2="339.11"/>
<line x1="336.5" y1="339.11" x2="334.5" y2="339.11"/>
<line x1="44.7" y1="325.93" x2="47.7" y2="325.93"/>
<line x1="336.5" y1="325.93" x2="333.5" y2="325.93"/>
<line x1="44.7" y1="312.75" x2="46.7" y2="312.75"/>
<line x1="336.5" y1="312.75" x2="334.5" y2="312.75"/>
<line x1="44.7" y1="299.57" x2="47.7" y2="299.57"/>
<line x1="336.5" y1="299.57" x2="333.5" y2="299.57"/>
<line x1="44.7" y1="430.45" x2="46.7" y2="430.45"/>
<line x1="336.5" y1="430.45" x2="334.5" y2="430.45"/>
<line x1="44.7" y1="419.7" x2="47.7" y2="419.7"/>
<line x1="336.5" y1="419.7" x2="333.5" y2="419.7"/>
<line x1="44.7" y1="408.95" x2="46.7" y2="408.95"/>
<line x1="336.5" y1="408.95" x2="334.5" y2="408.95"/>
<line x1="44.7" y1="398.2" x2="47.7" y2="398.2"/>
<line x1="336.5" y1="398.2" x2="333.5" y2="398.2"/>
<line x1="44.7" y1="387.45" x2="46.7" y2="387.45"/>
<line x1="336.5" y1="387.45" x2="334.5" y2="387.45"/>
<line x1="44.7" y1="376.7" x2="47.7" y2="376.7"/>
<line x1="336.5" y1="376.7" x2="333.5" y2="376.7"/>
<line x1="44.7" y1="499.39" x2="46.7" y2="499.39"/>
<line x1="336.5" y1="499.39" x2="334.5" y2="499.39"/>
<line x1="44.7" y1="484.08" x2="47.7" y2="484.08"/>
<line x1="336.5" y1="484.08" x2="333.5" y2="484.08"/>
<line x1="44.7" y1="468.76" x2="46.7" y2="468.76"/>
<line x1="336.5" y1="468.76" x2="334.5" y2="468.76"/>
<line x1="44.7" y1="453.45" x2="47.7" y2="453.45"/>
<line x1="336.5" y1="453.45" x2="333.5" y2="453.45"/>
</g>
<text x="40.8" y="355.29" font-size="11" text-anchor="end" font-family="Liberation Sans, sans-serif" font-weight="bold">0.5</text>
<text x="40.8" y="328.93" font-size="11" text-anchor="end" font-family="Liberation Sans, sans-serif" font-weight="bold">1</text>
<text x="40.8" y="302.57" font-size="11" text-anchor="end" font-family="Liberation Sans, sans-serif" font-weight="bold">1.5</text>
<text x="40.8" y="444.2" font-size="11" text-anchor="end" font-family="Liberation Sans, sans-serif" font-weight="bold">0</text>
<text x="40.8" y="422.7" font-size="11" text-anchor="end" font-family="Liberation Sans, sans-serif" font-weight="bold">0.25</text>
<text x="40.8" y="401.2" font-size="11" text-anchor="end" font-family="Liberation Sans, sans-serif" font-weight="bold">0.5</text>
<text x="40.8" y="379.7" font-size="11" text-anchor="end" font-family="Liberation Sans, sans-serif" font-weight="bold">0.75</text>
<text x="40.8" y="517.7" font-size="11" text-anchor="end" font-family="Liberation Sans, sans-serif" font-weight="bold">0</text>
<text x="40.8" y="487.08" font-size="11" text-anchor="end" font-family="Liberation Sans, sans-serif" font-weight="bold">0.05</text>
<text x="40.8" y="456.45" font-size="11" text-anchor="end" font-family="Liberation Sans, sans-serif" font-weight="bold">0.1</text>
<text x="44.7" y="528.2" font-size="10.2" text-anchor="middle" font-family="Liberation Sans, sans-serif" font-weight="bold">0</text>
<text x="103.06" y="528.2" font-size="10.2" text-anchor="middle" font-family="Liberation Sans, sans-serif" font-weight="bold">1000</text>
<text x="161.42" y="528.2" font-size="10.2" text-anchor="middle" font-family="Liberation Sans, sans-serif" font-weight="bold">2000</text>
<text x="219.78" y="528.2" font-size="10.2" text-anchor="middle" font-family="Liberation Sans, sans-serif" font-weight="bold">3000</text>
<text x="278.14" y="528.2" font-size="10.2" text-anchor="middle" font-family="Liberation Sans, sans-serif" font-weight="bold">4000</text>
<text x="336.5" y="528.2" font-size="10.2" text-anchor="middle" font-family="Liberation Sans, sans-serif" font-weight="bold">5000</text>
<text x="191" y="547.2" font-size="12.3" text-anchor="middle" font-family="Liberation Sans, sans-serif" font-weight="bold">Cycle (-)</text>
<text transform="translate(13.7,397.8) rotate(-90)" x="0" y="0" font-size="12.6" text-anchor="middle" font-family="Liberation Sans, sans-serif" font-weight="bold">Current Density (A cm<tspan dy="-5" font-size="9">-2</tspan><tspan dy="5">)</tspan></text>
<text x="0.8" y="309.5" font-size="19" text-anchor="start" font-family="Liberation Sans, sans-serif" font-weight="bold">b)</text>
<text x="332" y="308.9" font-size="15" text-anchor="end" font-family="Liberation Sans, sans-serif" font-weight="bold">0.30 V</text>
<text x="332" y="382.8" font-size="15" text-anchor="end" font-family="Liberation Sans, sans-serif" font-weight="bold">0.67 V</text>
<text x="332" y="457.1" font-size="15" text-anchor="end" font-family="Liberation Sans, sans-serif" font-weight="bold">0.85 V</text>
<polyline points="45.3,305.5 47.7,305 50.3,305.4 56.3,310.4 73.8,317 103.3,344.9" fill="none" stroke="#474747" stroke-width="1.5" stroke-linejoin="round"/>
<polyline points="45.3,301.5 50.6,296.6 56.4,296.1 73.8,300.3 103.5,311.7 161.7,365.4" fill="none" stroke="#f5302f" stroke-width="1.5" stroke-linejoin="round"/>
<polyline points="45.3,302.8 50.6,302.5 56.5,304.1 73.8,304.4 103.5,305.5 161.7,306.7 336.5,311.3" fill="none" stroke="#2466dc" stroke-width="1.5" stroke-linejoin="round"/>
<polyline points="45.3,378.5 47.7,376.5 50.3,375.3 56,380.7 73.8,387.9 103,420.4" fill="none" stroke="#474747" stroke-width="1.5" stroke-linejoin="round"/>
<polyline points="45.3,388 50.3,379.2 56.4,378.7 73.8,381.7 103.5,397.7 161.7,436.3" fill="none" stroke="#f5302f" stroke-width="1.5" stroke-linejoin="round"/>
<polyline points="45.3,392.6 50.3,392.1 56.4,393.7 73.8,393.6 103.5,394 161.7,394.7 336.5,398.3" fill="none" stroke="#2466dc" stroke-width="1.5" stroke-linejoin="round"/>
<polyline points="45,453.7 45.3,459.4 50.3,472.7 56.5,481.8 73.8,490.3 102.9,505.8" fill="none" stroke="#474747" stroke-width="1.5" stroke-linejoin="round"/>
<polyline points="45.2,482.3 50.3,481.1 56.5,486.4 73.8,493.7 103.5,501.7 161.7,512" fill="none" stroke="#f5302f" stroke-width="1.5" stroke-linejoin="round"/>
<polyline points="45.2,505.6 50.3,504.7 56.5,506.3 73.8,506.3 103.5,506.3 161.7,506.3 336.5,505.1" fill="none" stroke="#2466dc" stroke-width="1.5" stroke-linejoin="round"/>
<rect x="43.8" y="304" width="3" height="3" fill="#fff" stroke="#474747" stroke-width="0.8"/>
<rect x="46.2" y="303.5" width="3" height="3" fill="#fff" stroke="#474747" stroke-width="0.8"/>
<rect x="48.8" y="303.9" width="3" height="3" fill="#fff" stroke="#474747" stroke-width="0.8"/>
<rect x="54.8" y="308.9" width="3" height="3" fill="#fff" stroke="#474747" stroke-width="0.8"/>
<rect x="72.3" y="315.5" width="3" height="3" fill="#fff" stroke="#474747" stroke-width="0.8"/>
<rect x="101.8" y="343.4" width="3" height="3" fill="#fff" stroke="#474747" stroke-width="0.8"/>
<circle cx="45.3" cy="301.5" r="1.5" fill="#fff" stroke="#f5302f" stroke-width="0.8"/>
<circle cx="50.6" cy="296.6" r="1.5" fill="#fff" stroke="#f5302f" stroke-width="0.8"/>
<circle cx="56.4" cy="296.1" r="1.5" fill="#fff" stroke="#f5302f" stroke-width="0.8"/>
<circle cx="73.8" cy="300.3" r="1.5" fill="#fff" stroke="#f5302f" stroke-width="0.8"/>
<circle cx="103.5" cy="311.7" r="1.5" fill="#fff" stroke="#f5302f" stroke-width="0.8"/>
<circle cx="161.7" cy="365.4" r="1.5" fill="#fff" stroke="#f5302f" stroke-width="0.8"/>
<polygon points="45.3,300.53 43.2,304.31 47.4,304.31" fill="#fff" stroke="#2466dc" stroke-width="0.8" stroke-linejoin="miter"/>
<polygon points="50.6,300.23 48.5,304.01 52.7,304.01" fill="#fff" stroke="#2466dc" stroke-width="0.8" stroke-linejoin="miter"/>
<polygon points="56.5,301.83 54.4,305.61 58.6,305.61" fill="#fff" stroke="#2466dc" stroke-width="0.8" stroke-linejoin="miter"/>
<polygon points="73.8,302.13 71.7,305.91 75.9,305.91" fill="#fff" stroke="#2466dc" stroke-width="0.8" stroke-linejoin="miter"/>
<polygon points="103.5,303.23 101.4,307.01 105.6,307.01" fill="#fff" stroke="#2466dc" stroke-width="0.8" stroke-linejoin="miter"/>
<polygon points="161.7,304.43 159.6,308.21 163.8,308.21" fill="#fff" stroke="#2466dc" stroke-width="0.8" stroke-linejoin="miter"/>
<polygon points="336.5,309.03 334.4,312.81 338.6,312.81" fill="#fff" stroke="#2466dc" stroke-width="0.8" stroke-linejoin="miter"/>
<rect x="43.8" y="377" width="3" height="3" fill="#fff" stroke="#474747" stroke-width="0.8"/>
<rect x="46.2" y="375" width="3" height="3" fill="#fff" stroke="#474747" stroke-width="0.8"/>
<rect x="48.8" y="373.8" width="3" height="3" fill="#fff" stroke="#474747" stroke-width="0.8"/>
<rect x="54.5" y="379.2" width="3" height="3" fill="#fff" stroke="#474747" stroke-width="0.8"/>
<rect x="72.3" y="386.4" width="3" height="3" fill="#fff" stroke="#474747" stroke-width="0.8"/>
<rect x="101.5" y="418.9" width="3" height="3" fill="#fff" stroke="#474747" stroke-width="0.8"/>
<circle cx="45.3" cy="388" r="1.5" fill="#fff" stroke="#f5302f" stroke-width="0.8"/>
<circle cx="50.3" cy="379.2" r="1.5" fill="#fff" stroke="#f5302f" stroke-width="0.8"/>
<circle cx="56.4" cy="378.7" r="1.5" fill="#fff" stroke="#f5302f" stroke-width="0.8"/>
<circle cx="73.8" cy="381.7" r="1.5" fill="#fff" stroke="#f5302f" stroke-width="0.8"/>
<circle cx="103.5" cy="397.7" r="1.5" fill="#fff" stroke="#f5302f" stroke-width="0.8"/>
<circle cx="161.7" cy="436.3" r="1.5" fill="#fff" stroke="#f5302f" stroke-width="0.8"/>
<polygon points="45.3,390.33 43.2,394.11 47.4,394.11" fill="#fff" stroke="#2466dc" stroke-width="0.8" stroke-linejoin="miter"/>
<polygon points="50.3,389.83 48.2,393.61 52.4,393.61" fill="#fff" stroke="#2466dc" stroke-width="0.8" stroke-linejoin="miter"/>
<polygon points="56.4,391.43 54.3,395.21 58.5,395.21" fill="#fff" stroke="#2466dc" stroke-width="0.8" stroke-linejoin="miter"/>
<polygon points="73.8,391.33 71.7,395.11 75.9,395.11" fill="#fff" stroke="#2466dc" stroke-width="0.8" stroke-linejoin="miter"/>
<polygon points="103.5,391.73 101.4,395.51 105.6,395.51" fill="#fff" stroke="#2466dc" stroke-width="0.8" stroke-linejoin="miter"/>
<polygon points="161.7,392.43 159.6,396.21 163.8,396.21" fill="#fff" stroke="#2466dc" stroke-width="0.8" stroke-linejoin="miter"/>
<polygon points="336.5,396.03 334.4,399.81 338.6,399.81" fill="#fff" stroke="#2466dc" stroke-width="0.8" stroke-linejoin="miter"/>
<rect x="43.5" y="452.2" width="3" height="3" fill="#fff" stroke="#474747" stroke-width="0.8"/>
<rect x="43.8" y="457.9" width="3" height="3" fill="#fff" stroke="#474747" stroke-width="0.8"/>
<rect x="48.8" y="471.2" width="3" height="3" fill="#fff" stroke="#474747" stroke-width="0.8"/>
<rect x="55" y="480.3" width="3" height="3" fill="#fff" stroke="#474747" stroke-width="0.8"/>
<rect x="72.3" y="488.8" width="3" height="3" fill="#fff" stroke="#474747" stroke-width="0.8"/>
<rect x="101.4" y="504.3" width="3" height="3" fill="#fff" stroke="#474747" stroke-width="0.8"/>
<circle cx="45.2" cy="482.3" r="1.5" fill="#fff" stroke="#f5302f" stroke-width="0.8"/>
<circle cx="50.3" cy="481.1" r="1.5" fill="#fff" stroke="#f5302f" stroke-width="0.8"/>
<circle cx="56.5" cy="486.4" r="1.5" fill="#fff" stroke="#f5302f" stroke-width="0.8"/>
<circle cx="73.8" cy="493.7" r="1.5" fill="#fff" stroke="#f5302f" stroke-width="0.8"/>
<circle cx="103.5" cy="501.7" r="1.5" fill="#fff" stroke="#f5302f" stroke-width="0.8"/>
<circle cx="161.7" cy="512" r="1.5" fill="#fff" stroke="#f5302f" stroke-width="0.8"/>
<polygon points="45.2,503.33 43.1,507.11 47.3,507.11" fill="#fff" stroke="#2466dc" stroke-width="0.8" stroke-linejoin="miter"/>
<polygon points="50.3,502.43 48.2,506.21 52.4,506.21" fill="#fff" stroke="#2466dc" stroke-width="0.8" stroke-linejoin="miter"/>
<polygon points="56.5,504.03 54.4,507.81 58.6,507.81" fill="#fff" stroke="#2466dc" stroke-width="0.8" stroke-linejoin="miter"/>
<polygon points="73.8,504.03 71.7,507.81 75.9,507.81" fill="#fff" stroke="#2466dc" stroke-width="0.8" stroke-linejoin="miter"/>
<polygon points="103.5,504.03 101.4,507.81 105.6,507.81" fill="#fff" stroke="#2466dc" stroke-width="0.8" stroke-linejoin="miter"/>
<polygon points="161.7,504.03 159.6,507.81 163.8,507.81" fill="#fff" stroke="#2466dc" stroke-width="0.8" stroke-linejoin="miter"/>
<polygon points="336.5,502.83 334.4,506.61 338.6,506.61" fill="#fff" stroke="#2466dc" stroke-width="0.8" stroke-linejoin="miter"/>
<line x1="241" y1="325" x2="265.3" y2="325" stroke="#474747" stroke-width="1.2"/>
<rect x="250.3" y="322" width="6" height="6" fill="#fff" stroke="#474747" stroke-width="1"/>
<text x="270.5" y="328.5" font-size="12" text-anchor="start" font-family="Liberation Sans, sans-serif" font-weight="bold">PtCo30/H</text>
<line x1="241" y1="339.7" x2="265.3" y2="339.7" stroke="#f5302f" stroke-width="1.2"/>
<circle cx="253.3" cy="339.7" r="3" fill="#fff" stroke="#f5302f" stroke-width="1.1"/>
<text x="270.5" y="343.2" font-size="12" text-anchor="start" font-family="Liberation Sans, sans-serif" font-weight="bold">Pt30/H</text>
<line x1="241" y1="353.8" x2="265.3" y2="353.8" stroke="#2466dc" stroke-width="1.2"/>
<polygon points="253.3,350.02 249.8,356.32 256.8,356.32" fill="#fff" stroke="#2466dc" stroke-width="1.1" stroke-linejoin="miter"/>
<text x="270.5" y="357.3" font-size="12" text-anchor="start" font-family="Liberation Sans, sans-serif" font-weight="bold">Pt20/L</text>
</svg></body></html>
